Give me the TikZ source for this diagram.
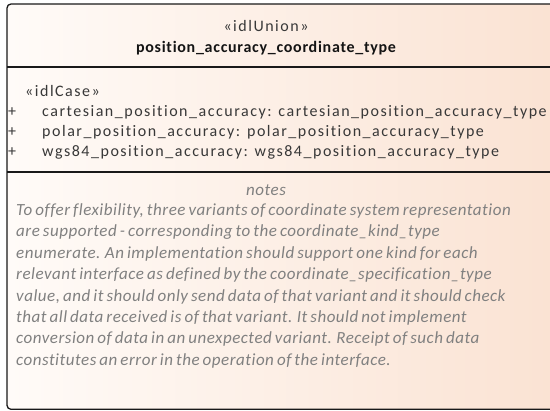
\documentclass[tikz,border=0pt]{standalone}
\usepackage{fontspec}
\setmainfont{Carlito}
\newfontfamily\regf[LetterSpace=9.5, Ligatures=NoCommon]{Carlito}
\newfontfamily\boldf[LetterSpace=4.5, Ligatures=NoCommon]{Carlito Bold}
\newfontfamily\notef[LetterSpace=3, WordSpace=0.7, Ligatures=NoCommon]{Carlito Italic}
\begin{document}
\begin{tikzpicture}[x=1bp,y=-1bp,
  txt/.style={inner sep=0pt, anchor=base west, font=\regf\fontsize{16bp}{19bp}\selectfont, text=black!78},
  ctr/.style={inner sep=0pt, anchor=base, font=\regf\fontsize{16bp}{19bp}\selectfont, text=black!78},
  note/.style={inner sep=0pt, anchor=base west, font=\notef\fontsize{17bp}{20bp}\selectfont, text=black!50},
  frame/.style={draw=black!90, line width=1.3bp, rounded corners=4bp}]
\useasboundingbox (0,0) rectangle (550,410);
\clip (0,0) rectangle (550,410);
\shade[left color={rgb,255:red,255;green,251;blue,248}, right color={rgb,255:red,250;green,226;blue,210}, rounded corners=4bp] (7,4) rectangle (565,409.3);
\draw[frame] (7,4) rectangle (565,409.3);
\coordinate (d1l) at (7,67);
\coordinate (d1r) at (565,67);
\coordinate (d2l) at (7,172);
\coordinate (d2r) at (565,172);
\draw[line width=1.3bp, draw=black!90] (d1l) -- (d1r);
\draw[line width=1.3bp, draw=black!90] (d2l) -- (d2r);
\node[ctr] (st) at (266,31) {«idlUnion»};
\node[ctr, font=\boldf\fontsize{16bp}{19bp}\selectfont, text=black!92] (title) at (266,52.5) {position\_accuracy\_coordinate\_type};
\node[txt] (case) at (25,96) {«idlCase»};
\node[txt] (p1) at (8,116) {+};
\node[txt] (a1) at (42,116) {cartesian\_position\_accuracy: cartesian\_position\_accuracy\_type};
\node[txt] (p2) at (8,136) {+};
\node[txt] (a2) at (42,136) {polar\_position\_accuracy: polar\_position\_accuracy\_type};
\node[txt] (p3) at (8,156) {+};
\node[txt] (a3) at (42,156) {wgs84\_position\_accuracy: wgs84\_position\_accuracy\_type};
\node[ctr, font=\notef\fontsize{17bp}{20bp}\selectfont, text=black!50] (nt) at (266,195) {notes};
\node[note] (n1) at (16,215.5) {To offer flexibility, three variants of coordinate system representation};
\node[note] (n2) at (16,236.9) {are supported - corresponding to the coordinate\_kind\_type};
\node[note] (n3) at (16,258.3) {enumerate. An implementation should support one kind for each};
\node[note] (n4) at (16,279.7) {relevant interface as defined by the coordinate\_specification\_type};
\node[note] (n5) at (16,301.1) {value, and it should only send data of that variant and it should check};
\node[note] (n6) at (16,322.5) {that all data received is of that variant. It should not implement};
\node[note] (n7) at (16,343.9) {conversion of data in an unexpected variant. Receipt of such data};
\node[note] (n8) at (16,365.3) {constitutes an error in the operation of the interface.};
\end{tikzpicture}
\end{document}
